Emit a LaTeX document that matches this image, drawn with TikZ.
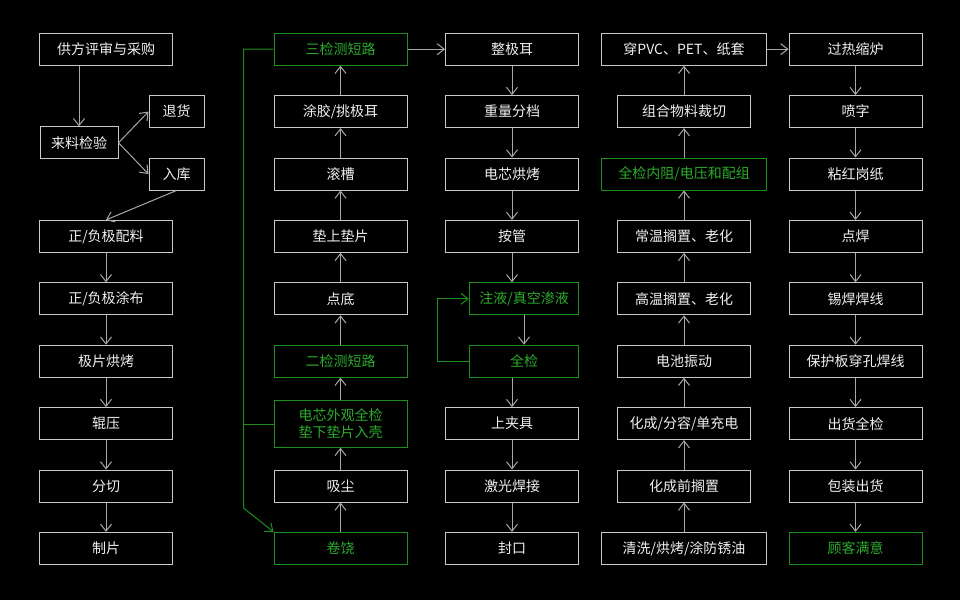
\documentclass[tikz,border=0pt]{standalone}
\usepackage{fontspec}
\setmainfont{Noto Sans CJK SC}
\usetikzlibrary{arrows.meta}
\definecolor{boxline}{HTML}{C8C8C8}
\definecolor{arrline}{HTML}{A8A8A8}
\definecolor{txt}{HTML}{F0F0F0}
\definecolor{gline}{HTML}{1C8F1C}
\definecolor{gtxt}{HTML}{2DAA2D}
\tikzset{
  box/.style={draw=boxline, line width=1pt, fill=black, text=txt, minimum width=133pt, minimum height=32pt, inner sep=0pt, font=\fontsize{14}{17}\selectfont, align=center},
  gbox/.style={box, draw=gline, text=gtxt},
  arr/.style={draw=arrline, line width=1pt, -{Straight Barb[length=7pt,width=11pt,line width=1pt]}},
  garr/.style={draw=gline, line width=1pt, -{Straight Barb[length=7pt,width=11pt,line width=1pt]}},
  gcon/.style={draw=gline, line width=1pt},
}
\begin{document}
\begin{tikzpicture}[x=1pt,y=-1pt]
\fill[black] (0,0) rectangle (960,600);
\useasboundingbox (0,0) rectangle (960,600);
% column 1
\node[box] (a1) at (106,49.2) {供方评审与采购};
\node[box, minimum width=78pt] (a2) at (79,142.8) {来料检验};
\node[box, minimum width=55pt] (th) at (176.5,111.6) {退货};
\node[box, minimum width=55pt] (rk) at (176.5,174) {入库};
\node[box] (a4) at (106,236.4) {正/负极配料};
\node[box] (a5) at (106,298.8) {正/负极涂布};
\node[box] (a6) at (106,361.2) {极片烘烤};
\node[box] (a7) at (106,423.6) {辊压};
\node[box] (a8) at (106,486) {分切};
\node[box] (a9) at (106,548.4) {制片};
% column 2
\node[gbox] (b1) at (340.5,49.2) {三检测短路};
\node[box] (b2) at (340.5,111.6) {涂胶/挑极耳};
\node[box] (b3) at (340.5,174) {滚槽};
\node[box] (b4) at (340.5,236.4) {垫上垫片};
\node[box] (b5) at (340.5,298.8) {点底};
\node[gbox] (b6) at (340.5,361.2) {二检测短路};
\node[gbox, minimum height=46.6pt] (b7) at (340.5,424) {电芯外观全检\\垫下垫片入壳};
\node[box] (b8) at (340.5,486) {吸尘};
\node[gbox] (b9) at (340.5,548.4) {卷饶};
% column 3
\node[box] (c1) at (512,49.2) {整极耳};
\node[box] (c2) at (512,111.6) {重量分档};
\node[box] (c3) at (512,174) {电芯烘烤};
\node[box] (c4) at (512,236.4) {按管};
\node[gbox, minimum width=109.4pt] (c5) at (524,298.8) {注液/真空渗液};
\node[gbox, minimum width=109.4pt] (c6) at (524,361.2) {全检};
\node[box] (c7) at (512,423.6) {上夹具};
\node[box] (c8) at (512,486) {激光焊接};
\node[box] (c9) at (512,548.4) {封口};
% column 4
\node[box, minimum width=164.3pt] (d1) at (684,49.2) {穿PVC、PET、纸套};
\node[box] (d2) at (684,111.6) {组合物料裁切};
\node[gbox, minimum width=164.3pt] (d3) at (684,174) {全检内阻/电压和配组};
\node[box] (d4) at (684,236.4) {常温搁置、老化};
\node[box] (d5) at (684,298.8) {高温搁置、老化};
\node[box] (d6) at (684,361.2) {电池振动};
\node[box] (d7) at (684,423.6) {化成/分容/单充电};
\node[box] (d8) at (684,486) {化成前搁置};
\node[box, minimum width=164.3pt] (d9) at (684,548.4) {清洗/烘烤/涂防锈油};
% column 5
\node[box] (e1) at (855.5,49.2) {过热缩炉};
\node[box] (e2) at (855.5,111.6) {喷字};
\node[box] (e3) at (855.5,174) {粘红岗纸};
\node[box] (e4) at (855.5,236.4) {点焊};
\node[box] (e5) at (855.5,298.8) {锡焊焊线};
\node[box] (e6) at (855.5,361.2) {保护板穿孔焊线};
\node[box] (e7) at (855.5,423.6) {出货全检};
\node[box] (e8) at (855.5,486) {包装出货};
\node[gbox] (e9) at (855.5,548.4) {顾客满意};
% connectors column 1
\draw[arr] (a1.south -| a2) -- (a2.north);
\draw[arr] (a2.east) -- (th.west);
\draw[arr] (a2.east) -- (rk.west);
\draw[arr] (rk.south) -- (a4.north);
\foreach \u/\v in {a4/a5,a5/a6,a6/a7,a7/a8,a8/a9}{\draw[arr] (\u.south) -- (\v.north);}
% column 2 (upward)
\foreach \u/\v in {b9/b8,b8/b7,b7/b6,b6/b5,b5/b4,b4/b3,b3/b2,b2/b1}{\draw[arr] (\u.north) -- (\v.south);}
\draw[arr] (b1.east) -- (c1.west);
% column 3
\foreach \u/\v in {c1/c2,c2/c3,c3/c4}{\draw[arr] (\u.south) -- (\v.north);}
\draw[arr] (c4.south) -- (c4.south |- c5.north);
\draw[arr] (c5.south) -- (c6.north);
\draw[arr] (c6.south -| c7) -- (c7.north);
\foreach \u/\v in {c7/c8,c8/c9}{\draw[arr] (\u.south) -- (\v.north);}
% green loops
\coordinate (gl) at (243.5,508);
\draw[garr] (c6.west) -- ([xshift=-31pt]c6.west) |- (c5.west);
\draw[garr] (b1.west) -- (b1.west -| gl) -- (gl) -- (b9.north west);
\draw[gcon] (b7.west) -- (b7.west -| gl);
% column 4 (upward)
\foreach \u/\v in {d9/d8,d8/d7,d7/d6,d6/d5,d5/d4,d4/d3,d3/d2,d2/d1}{\draw[arr] (\u.north) -- (\v.south);}
\draw[arr] (d1.east) -- (e1.west);
% column 5
\foreach \u/\v in {e1/e2,e2/e3,e3/e4,e4/e5,e5/e6,e6/e7,e7/e8,e8/e9}{\draw[arr] (\u.south) -- (\v.north);}
\end{tikzpicture}
\end{document}
